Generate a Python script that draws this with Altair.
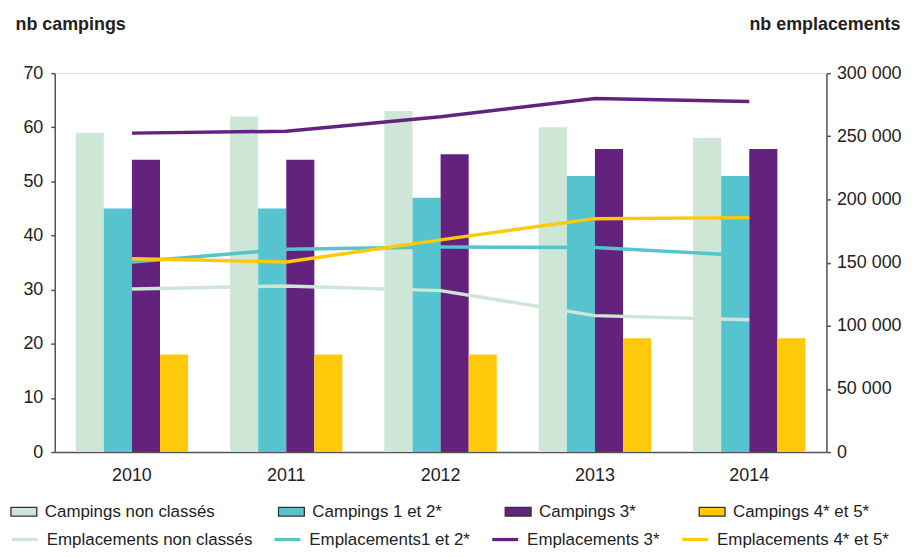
import altair as alt
import pandas as pd

years = ["2010", "2011", "2012", "2013", "2014"]

camp_series = ["Campings non classés", "Campings 1 et 2*", "Campings 3*", "Campings 4* et 5*"]
camp_non_classes = [59, 62, 63, 60, 58]
camp_1_2 = [45, 45, 47, 51, 51]
camp_3 = [54, 54, 55, 56, 56]
camp_4_5 = [18, 18, 18, 21, 21]

empl_series = ["Emplacements non classés", "Emplacements1 et 2*", "Emplacements 3*", "Emplacements 4* et 5*"]
empl_non_classes = [129000, 131500, 127800, 108000, 104700]
empl_1_2 = [150500, 160500, 162300, 162000, 155500]
empl_3 = [252500, 254000, 265500, 280000, 277500]
empl_4_5 = [153000, 150500, 168000, 184800, 185600]

colors = ["#cde6d6", "#55c4ce", "#64227f", "#fec90a"]

left_ticks = [0, 10, 20, 30, 40, 50, 60, 70]
right_ticks = [0, 50000, 100000, 150000, 200000, 250000, 300000]

camp_values = [camp_non_classes, camp_1_2, camp_3, camp_4_5]
empl_values = [empl_non_classes, empl_1_2, empl_3, empl_4_5]

bars_df = pd.DataFrame(
    [{"year": y, "series": s, "value": v}
     for s, vals in zip(camp_series, camp_values)
     for y, v in zip(years, vals)]
)
lines_df = pd.DataFrame(
    [{"year": y, "series": s, "value": v}
     for s, vals in zip(empl_series, empl_values)
     for y, v in zip(years, vals)]
)

FONT = "Liberation Sans"
TXT = "#222222"
AX = "#555555"

legend_common = dict(
    title=None,
    orient="none",
    direction="horizontal",
    columns=4,
    padding=0,
    symbolSize=676,
    labelFontSize=17,
    labelFont=FONT,
    labelColor=TXT,
    labelLimit=500,
    labelOffset=7,
)

fill_legend = alt.Legend(
    legendX=-45,
    legendY=427,
    columnPadding=60,
    symbolType="M-1,-0.34H1V0.34H-1Z",
    symbolStrokeColor="#333333",
    symbolStrokeWidth=1.3,
    **legend_common,
)
stroke_legend = alt.Legend(
    legendX=-45,
    legendY=454,
    columnPadding=15,
    symbolType="stroke",
    symbolStrokeWidth=3.3,
    **legend_common,
)

x_enc = alt.X(
    "year:O",
    sort=years,
    scale=alt.Scale(paddingInner=0.272, paddingOuter=0.136),
    axis=alt.Axis(
        title=None, labelAngle=0, ticks=False, tickSize=0, labelPadding=15,
        labelFontSize=18, labelFont=FONT, labelColor=TXT,
        domainColor=AX, domainWidth=1.5,
    ),
)

bars = alt.Chart(bars_df).mark_bar().encode(
    x=x_enc,
    xOffset=alt.XOffset("series:N", sort=camp_series, scale=alt.Scale(paddingInner=0, paddingOuter=0)),
    y=alt.Y(
        "value:Q",
        scale=alt.Scale(domain=[0, 70]),
        axis=alt.Axis(
            orient="left", values=left_ticks, title="nb campings", grid=False,
            titleAngle=0, titleAlign="left", titleBaseline="alphabetic",
            titleX=-40, titleY=-44, titleFontSize=18, titleFont=FONT, titleFontWeight="bold",
            titleColor=TXT,
            labelFontSize=18, labelFont=FONT, labelColor=TXT, labelPadding=8,
            tickSize=4, tickColor=AX, tickWidth=1.5,
            domainColor=AX, domainWidth=1.5,
        ),
    ),
    fill=alt.Fill("series:N", scale=alt.Scale(domain=camp_series, range=colors), legend=fill_legend),
)

lines = alt.Chart(lines_df).mark_line(strokeWidth=3.5).encode(
    x=alt.X("year:O", sort=years),
    y=alt.Y(
        "value:Q",
        scale=alt.Scale(domain=[0, 300000]),
        axis=alt.Axis(
            orient="right", values=right_ticks, title="nb emplacements", grid=False,
            labelExpr="replace(format(datum.value, ','), ',', ' ')",
            titleAngle=0, titleAlign="right", titleBaseline="alphabetic",
            titleX=74, titleY=-44, titleFontSize=18, titleFont=FONT, titleFontWeight="bold",
            titleColor=TXT,
            labelFontSize=18, labelFont=FONT, labelColor=TXT, labelPadding=6,
            tickSize=4, tickColor=AX, tickWidth=1.5,
            domainColor=AX, domainWidth=1.5,
        ),
    ),
    stroke=alt.Stroke("series:N", scale=alt.Scale(domain=empl_series, range=colors), legend=stroke_legend),
)

chart = (
    alt.layer(bars, lines)
    .resolve_scale(y="independent")
    .properties(
        width=776,
        height=381,
        autosize=alt.AutoSizeParams(type="none"),
        padding={"left": 47, "top": 64, "right": 80, "bottom": 96},
    )
    .configure_view(stroke=None)
    .configure(background="white")
)

chart.save("out.html", embed_options={"renderer": "svg", "actions": False})
